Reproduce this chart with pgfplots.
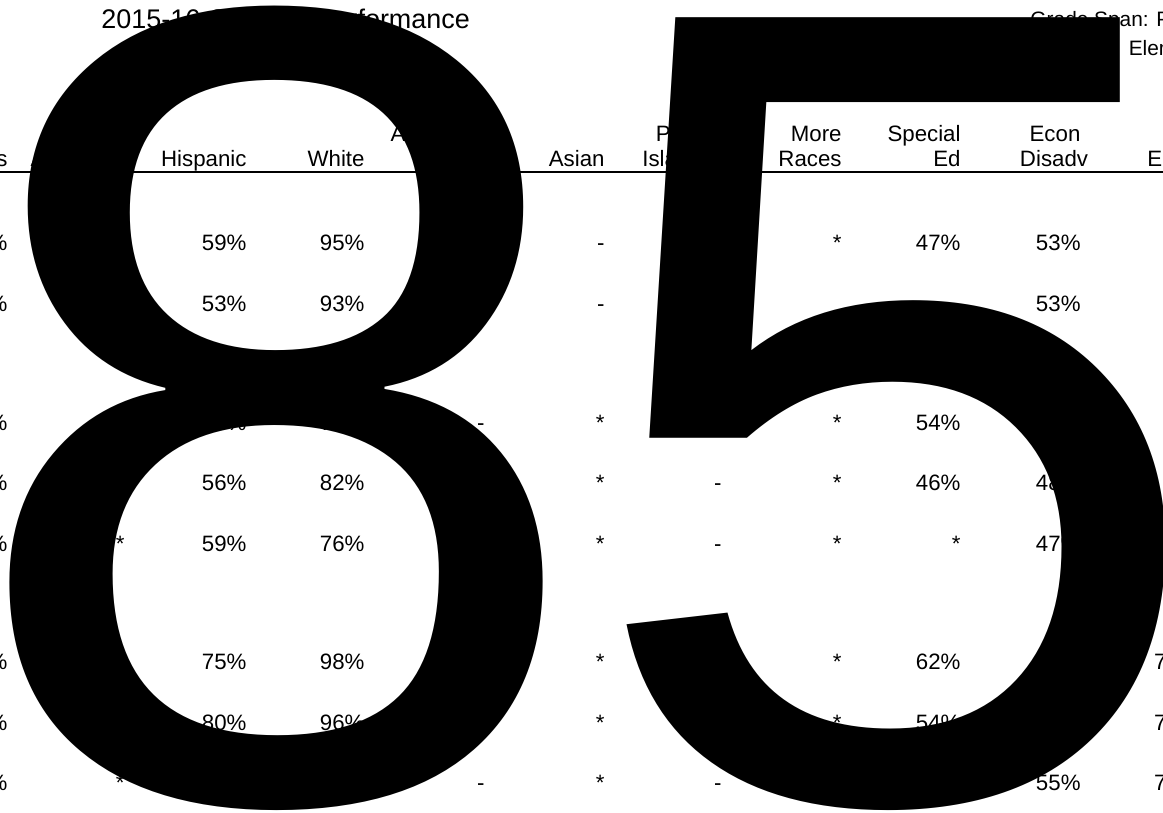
\documentclass[border=0pt]{standalone}
\usepackage{pgfplots}
\pgfplotsset{compat=1.18}
\usepackage{fontspec}
\setmainfont{Liberation Sans}
\newcommand\cellfont{\fontsize{9.5pt}{11pt}\selectfont}
\newcommand\smallfont{\fontsize{8.9pt}{11pt}\selectfont}
\newcommand\titlefont{\fontsize{11.5pt}{13pt}\selectfont}
\newcommand\bigfont{\fontsize{485pt}{485pt}\selectfont}
\begin{document}
\begin{tikzpicture}
\begin{scope}
\clip (0,0) rectangle (174.45mm,121.8mm);
\begin{axis}[
  at={(0,0)}, anchor=south west,
  scale only axis, width=174.45mm, height=121.8mm,
  xmin=0, xmax=1163, ymin=0, ymax=812, y dir=reverse,
  hide axis, clip=false,
  every node near coord/.append style={anchor=base east, inner sep=0pt, font=\cellfont, text=black},
]
% table cells
\addplot[draw=none, mark=none, nodes near coords, point meta=explicit symbolic] coordinates {
(8,250)[79\%] (125,250)[60\%] (247,250)[59\%] (365,250)[95\%] (485,250)[-] (605,250)[-] (722,250)[-] (842,250)[*] (961,250)[47\%] (1081,250)[53\%] (1199,250)[*]
(8,311)[76\%] (125,311)[52\%] (247,311)[53\%] (365,311)[93\%] (485,311)[-] (605,311)[-] (722,311)[-] (1081,311)[53\%] (1199,311)[*]
(8,430)[71\%] (125,430)[*] (247,430)[63\%] (365,430)[78\%] (485,430)[-] (605,430)[*] (722,430)[-] (842,430)[*] (961,430)[54\%] (1081,430)[60\%] (1199,430)[*]
(8,490)[68\%] (125,490)[*] (247,490)[56\%] (365,490)[82\%] (485,490)[-] (605,490)[*] (722,490)[-] (842,490)[*] (961,490)[46\%] (1081,490)[48\%] (1199,490)[*]
(8,551)[67\%] (125,551)[*] (247,551)[59\%] (365,551)[76\%] (485,551)[-] (605,551)[*] (722,551)[-] (842,551)[*] (961,551)[*] (1081,551)[47\%] (1199,551)[*]
(8,669)[86\%] (125,669)[*] (247,669)[75\%] (365,669)[98\%] (485,669)[-] (605,669)[*] (722,669)[-] (842,669)[*] (961,669)[62\%] (1081,669)[78\%] (1199,669)[74\%]
(8,730)[88\%] (125,730)[*] (247,730)[80\%] (365,730)[96\%] (485,730)[-] (605,730)[*] (722,730)[-] (842,730)[*] (961,730)[54\%] (1081,730)[79\%] (1199,730)[77\%]
(8,790)[84\%] (125,790)[*] (247,790)[73\%] (365,790)[94\%] (485,790)[-] (605,790)[*] (722,790)[-] (842,790)[*] (961,790)[57\%] (1081,790)[55\%] (1199,790)[72\%]
};
% header
\draw[line width=0.85pt] (axis cs:0,172) -- (axis cs:1163,172);
\begin{scope}[every node/.style={inner sep=0pt, font=\cellfont, text=black}]
\node[anchor=base east] at (axis cs:8,166) {All Students};
\node[anchor=base east] at (axis cs:125,141) {African};
\node[anchor=base east] at (axis cs:125,166) {American};
\node[anchor=base east] at (axis cs:247,166) {Hispanic};
\node[anchor=base east] at (axis cs:365,166) {White};
\node[anchor=base east] at (axis cs:485,141) {American};
\node[anchor=base east] at (axis cs:485,166) {Indian};
\node[anchor=base east] at (axis cs:605,166) {Asian};
\node[anchor=base east] at (axis cs:722,141) {Pacific};
\node[anchor=base east] at (axis cs:722,166) {Islander};
\node[anchor=base east] at (axis cs:842,141) {More};
\node[anchor=base east] at (axis cs:842,166) {Races};
\node[anchor=base east] at (axis cs:961,141) {Special};
\node[anchor=base east] at (axis cs:961,166) {Ed};
\node[anchor=base] at (axis cs:1055,141) {Econ};
\node[anchor=base] at (axis cs:1054,166) {Disadv};
\node[anchor=base west] at (axis cs:1147,166) {ELL};
\node[anchor=base west, font=\smallfont] at (axis cs:1030,26) {Grade Span: PK - 05};
\node[anchor=base west, font=\smallfont] at (axis cs:1000,55) {School Type: Elementary};
\node[anchor=base west, font=\titlefont] at (axis cs:101,28) {2015-16 Campus Performance};
\end{scope}
% big overlay
\node[anchor=base west, inner sep=0pt, text=black, font=\bigfont] at (axis cs:-40,799) {8};
\node[anchor=base west, inner sep=0pt, text=black, font=\bigfont] at (axis cs:581,799) {5};
\end{axis}
\end{scope}
\pgfresetboundingbox
\path[use as bounding box] (0,0) rectangle (174.45mm,121.8mm);
\end{tikzpicture}
\end{document}
